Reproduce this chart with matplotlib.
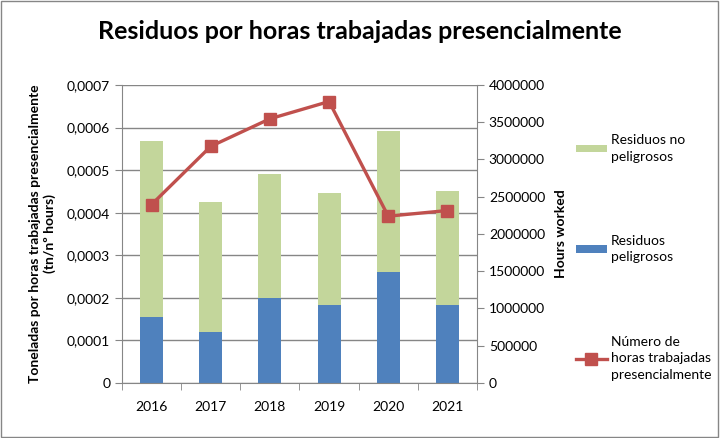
import numpy as np
import matplotlib.pyplot as plt
from matplotlib.ticker import FuncFormatter, MultipleLocator
from matplotlib.patches import Rectangle

years = ["2016", "2017", "2018", "2019", "2020", "2021"]
peligrosos = [0.000154, 0.000119, 0.000199, 0.000183, 0.000260, 0.000184]
no_peligrosos = [0.000414, 0.000307, 0.000291, 0.000264, 0.000333, 0.000267]
horas = [2395000, 3176000, 3546000, 3778000, 2239000, 2315000]

plt.rcParams["font.family"] = ["Lato", "DejaVu Sans"]

blue = "#4F81BD"
green = "#C3D69B"
red = "#C0504D"
grid_col = "#868686"

fig = plt.figure(figsize=(7.2, 4.38), dpi=100)
ax = fig.add_axes([0.1694, 0.1256, 0.4931, 0.6804])
ax2 = ax.twinx()

x = np.arange(len(years))
b1 = ax.bar(x, peligrosos, width=0.39, color=blue, zorder=2, label="Residuos\npeligrosos")
b2 = ax.bar(x, no_peligrosos, width=0.39, bottom=peligrosos, color=green, zorder=2,
            label="Residuos no\npeligrosos")
l1, = ax2.plot(x, horas, color=red, lw=2.4, marker="s", markersize=8,
               label="Número de\nhoras trabajadas\npresencialmente")

ax.set_xlim(-0.5, len(years) - 0.5)
ax.set_ylim(0, 0.0007)
ax2.set_ylim(0, 4000000)
ax.yaxis.set_major_locator(MultipleLocator(0.0001))
ax2.yaxis.set_major_locator(MultipleLocator(500000))


def comma_fmt(v, pos):
    if abs(v) < 1e-12:
        return "0"
    return f"{v:.4f}".replace(".", ",")


ax.yaxis.set_major_formatter(FuncFormatter(comma_fmt))
ax2.yaxis.set_major_formatter(FuncFormatter(lambda v, p: f"{int(round(v))}"))

ax.yaxis.grid(True, color=grid_col, lw=1, zorder=0)
ax.set_axisbelow(True)

ax.set_xticks(x)
ax.set_xticklabels(years)
ax.set_xticks(np.arange(-0.5, len(years)), minor=True)
ax.tick_params(axis="x", which="major", length=0, labelsize=10, pad=13)
ax.tick_params(axis="x", which="minor", length=5, color=grid_col)
ax.tick_params(axis="y", length=5, color=grid_col, labelsize=10)
ax2.tick_params(axis="y", length=5, color=grid_col, labelsize=10)

for a in (ax, ax2):
    a.spines["top"].set_visible(False)
    for s in ("left", "right", "bottom"):
        a.spines[s].set_color(grid_col)
ax.spines["right"].set_visible(False)
ax2.spines["left"].set_visible(False)
ax2.spines["bottom"].set_visible(False)

ax.set_ylabel("Toneladas por horas trabajadas presencialmente\n(tn/nº hours)",
              fontsize=10, fontweight="bold", labelpad=8)
ax2.set_ylabel("Hours worked", fontsize=10, fontweight="bold", labelpad=7)

fig.suptitle("Residuos por horas trabajadas presencialmente", fontsize=18,
             fontweight="bold", y=0.955)

leg = ax2.legend(handles=[b2, b1, l1], loc="upper left", bbox_to_anchor=(1.279, 0.835),
                 frameon=False, fontsize=10, labelspacing=5.2, handlelength=2.2,
                 handleheight=0.5, handletextpad=0.3, borderpad=0, borderaxespad=0)
for t in leg.get_texts():
    t.set_linespacing(1.45)

fig.patches.append(Rectangle((0.002, 0.003), 0.995, 0.994, transform=fig.transFigure,
                             fill=False, edgecolor=grid_col, lw=1))

fig.savefig("out.png", dpi=100)
